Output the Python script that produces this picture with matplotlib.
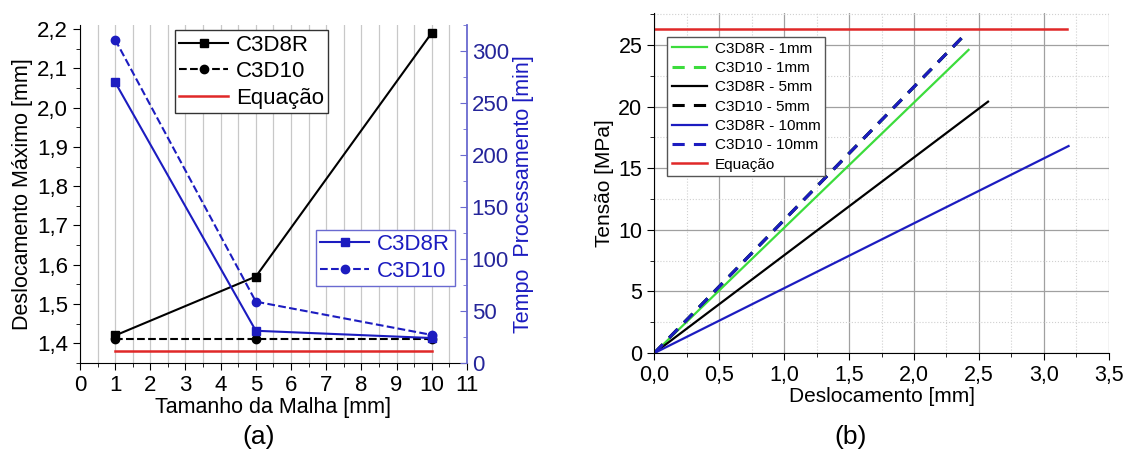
import numpy as np
import matplotlib.pyplot as plt
from matplotlib.ticker import MultipleLocator, FuncFormatter

plt.rcParams['font.family'] = ['Liberation Sans', 'DejaVu Sans']

# (a) mesh study
malha = [1, 5, 10]
desl_c3d8r = [1.42, 1.57, 2.19]
desl_c3d10 = [1.41, 1.41, 1.41]
desl_eq = [1.38, 1.38, 1.38]
tempo_c3d8r = [270, 31, 24]
tempo_c3d10 = [311, 59, 27]

# (b) stress x displacement (linear, start and end points)
curvas = {
    'C3D8R - 1mm': ([0, 2.42], [0, 24.6]),
    'C3D10 - 1mm': ([0, 2.37], [0, 25.6]),
    'C3D8R - 5mm': ([0, 2.57], [0, 20.4]),
    'C3D10 - 5mm': ([0, 2.37], [0, 25.6]),
    'C3D8R - 10mm': ([0, 3.19], [0, 16.8]),
    'C3D10 - 10mm': ([0, 2.37], [0, 25.6]),
}
eq_x = [0, 3.18]
eq_y = [26.3, 26.3]

azul = '#1c1cc0'
verde = '#3cdc3c'
vermelho = '#e02828'

virgula = FuncFormatter(lambda v, p: ('{:.1f}'.format(v)).replace('.', ','))

fig = plt.figure(figsize=(11.28, 4.61), dpi=100)

#########

ax1 = fig.add_axes([0.0709, 0.2126, 0.343, 0.733])
ax1.plot(malha, desl_c3d8r, 'k-', marker='s', ms=6, lw=1.5, label='C3D8R')
ax1.plot(malha, desl_c3d10, 'k--', marker='o', ms=6, lw=1.5, label='C3D10')
ax1.plot(malha, desl_eq, '-', color=vermelho, lw=1.8, label='Equação')
ax1.set_xlim(0, 11)
ax1.set_ylim(1.35, 2.21)
ax1.xaxis.set_major_locator(MultipleLocator(1))
ax1.xaxis.set_minor_locator(MultipleLocator(0.5))
ax1.yaxis.set_major_locator(MultipleLocator(0.1))
ax1.yaxis.set_minor_locator(MultipleLocator(0.05))
ax1.yaxis.set_major_formatter(virgula)
ax1.grid(True, which='both', axis='x', color='#c8c8c8', lw=0.9)
ax1.set_axisbelow(True)
ax1.tick_params(which='both', direction='out', labelsize=16)
ax1.tick_params(which='major', length=5)
ax1.tick_params(which='minor', length=3)
ax1.spines['top'].set_visible(False)
ax1.spines['right'].set_visible(False)
ax1.set_xlabel('Tamanho da Malha [mm]', fontsize=15.5, labelpad=1)
ax1.set_ylabel('Deslocamento Máximo [mm]', fontsize=15.5, labelpad=3)
leg1 = ax1.legend(loc='upper left', bbox_to_anchor=(0.245, 0.985), fontsize=16,
                  fancybox=False, edgecolor='#333333', framealpha=1, numpoints=1,
                  handlelength=2.2, handletextpad=0.35, labelspacing=0.25,
                  borderpad=0.2, borderaxespad=0)
leg1.get_frame().set_linewidth(1.0)

ax2 = ax1.twinx()
ax2.plot(malha, tempo_c3d8r, '-', color=azul, marker='s', ms=6, lw=1.5, label='C3D8R')
ax2.plot(malha, tempo_c3d10, '--', color=azul, marker='o', ms=6, lw=1.5, label='C3D10')
ax2.set_ylim(0, 325)
ax2.yaxis.set_major_locator(MultipleLocator(50))
ax2.yaxis.set_minor_locator(MultipleLocator(25))
ax2.spines['top'].set_visible(False)
ax2.spines['left'].set_visible(False)
ax2.spines['bottom'].set_visible(False)
ax2.spines['right'].set_color('#6a6ad0')
ax2.spines['right'].set_linewidth(1.3)
ax2.tick_params(which='both', direction='in', colors='#6a6ad0', labelcolor='#25259a', labelsize=16)
ax2.tick_params(which='major', length=5)
ax2.tick_params(which='minor', length=3)
ax2.set_ylabel('Tempo  Processamento [min]', fontsize=15.5, color=azul, labelpad=3)
leg2 = ax2.legend(loc='upper left', bbox_to_anchor=(0.61, 0.395), fontsize=16,
                  fancybox=False, edgecolor='#6a6ad0', framealpha=1, numpoints=1,
                  handlelength=2.2, handletextpad=0.35, labelspacing=0.25,
                  borderpad=0.2, borderaxespad=0)
for t in leg2.get_texts():
    t.set_color(azul)

#########

ax3 = fig.add_axes([0.580, 0.234, 0.403, 0.738])
estilos = {
    'C3D8R - 1mm': (verde, '-'),
    'C3D10 - 1mm': (verde, (0, (4, 3))),
    'C3D8R - 5mm': ('k', '-'),
    'C3D10 - 5mm': ('k', (0, (4, 3))),
    'C3D8R - 10mm': (azul, '-'),
    'C3D10 - 10mm': (azul, (0, (4, 3))),
}
for nome, (xs, ys) in curvas.items():
    cor, ls = estilos[nome]
    ax3.plot(xs, ys, color=cor, linestyle=ls, lw=1.6 if ls == '-' else 2.2, label=nome)
ax3.plot(eq_x, eq_y, '-', color=vermelho, lw=1.8, label='Equação')
ax3.set_xlim(0, 3.5)
ax3.set_ylim(0, 27.6)
ax3.xaxis.set_major_locator(MultipleLocator(0.5))
ax3.xaxis.set_minor_locator(MultipleLocator(0.25))
ax3.yaxis.set_major_locator(MultipleLocator(5))
ax3.yaxis.set_minor_locator(MultipleLocator(2.5))
ax3.xaxis.set_major_formatter(virgula)
ax3.grid(True, which='major', color='#a0a0a0', lw=0.9)
ax3.grid(True, which='minor', color='#d0d0d0', lw=0.8, linestyle=':')
ax3.set_axisbelow(True)
ax3.spines['top'].set_visible(False)
ax3.spines['right'].set_visible(False)
ax3.tick_params(which='both', direction='out', labelsize=15.5)
ax3.tick_params(which='major', length=5)
ax3.tick_params(which='minor', length=3)
ax3.set_xlabel('Deslocamento [mm]', fontsize=15, labelpad=1)
ax3.set_ylabel('Tensão [MPa]', fontsize=15, labelpad=3)
leg3 = ax3.legend(loc='upper left', bbox_to_anchor=(0.029, 0.929), fontsize=11,
                  fancybox=False, edgecolor='#555555', framealpha=1,
                  handlelength=2.3, handletextpad=0.5, labelspacing=0.35,
                  borderpad=0.3, borderaxespad=0)

fig.text(0.229, 0.052, '(a)', fontsize=19, ha='center', va='center')
fig.text(0.754, 0.052, '(b)', fontsize=19, ha='center', va='center')

fig.savefig('out.png', dpi=100)
